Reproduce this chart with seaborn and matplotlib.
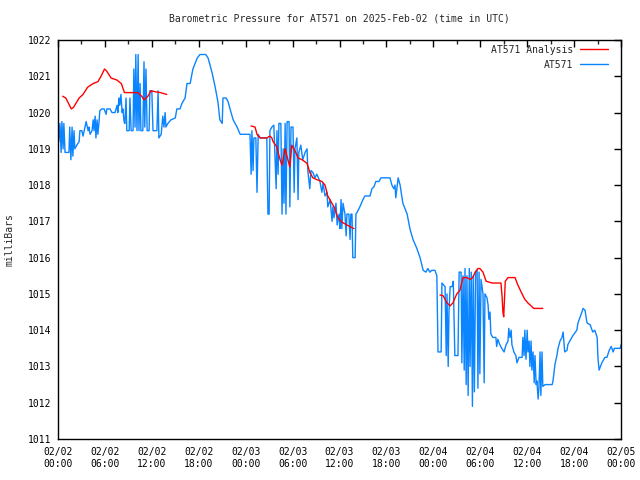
import pandas as pd
import matplotlib.pyplot as plt
import matplotlib.dates as mdates
import seaborn as sns
from matplotlib.lines import Line2D

# hours after 2025-02-02 00:00 UTC, station readings
blue_hours = [0.1, 0.25, 0.4, 0.5, 0.65, 0.75, 0.9, 1.4, 1.5, 1.65, 1.8, 1.9, 2.05, 2.15, 2.4, 2.7, 2.8,
              3.05, 3.2, 3.45, 3.6, 3.85, 3.95, 4.1, 4.35, 4.5, 4.6, 4.75, 4.85, 5.0, 5.1, 5.25, 5.35,
              5.6, 5.9, 6.15, 6.25, 6.65, 6.9, 7.3, 7.55, 7.65, 7.8, 7.9, 8.05, 8.2, 8.3, 8.45, 8.55,
              8.7, 8.8, 9.1, 9.2, 9.35, 9.6, 9.7, 9.85, 9.95, 10.1, 10.25, 10.35, 10.5, 10.6, 10.85,
              11.0, 11.1, 11.25, 11.4, 11.65, 11.75, 12.0, 12.15, 12.65, 12.8, 12.9, 13.2, 13.4, 13.55,
              13.7, 13.8, 14.05, 14.45, 15.0, 15.2, 15.6, 15.85, 16.25, 16.5, 16.9, 17.25, 17.8, 18.15,
              18.9, 19.2, 19.7, 20.1, 20.45, 20.7, 21.0, 21.1, 21.5, 21.75, 22.0, 22.4, 22.9, 23.3, 24.4,
              24.55, 24.7, 24.8, 24.95, 25.05, 25.3, 25.45, 25.6, 25.85, 26.7, 26.85, 27.0, 27.1, 27.35,
              27.6, 27.9, 28.0, 28.15, 28.25, 28.5, 28.65, 28.8, 28.9, 29.05, 29.15, 29.3, 29.55, 29.65,
              29.8, 30.05, 30.2, 30.3, 30.55, 30.7, 30.8, 31.05, 31.3, 31.6, 31.85, 31.95, 32.2, 32.35,
              32.6, 32.85, 33.1, 33.5, 33.75, 33.9, 34.15, 34.4, 34.5, 34.8, 35.05, 35.15, 35.3, 35.55,
              35.7, 35.95, 36.05, 36.2, 36.3, 36.45, 36.7, 36.85, 36.95, 37.2, 37.35, 37.45, 37.6, 37.7,
              38.0, 38.1, 38.25, 38.6, 39.0, 39.25, 39.9, 40.15, 40.4, 40.65, 41.05, 41.3, 41.55, 42.45,
              42.7, 42.95, 43.1, 43.2, 43.5, 43.75, 44.1, 44.65, 45.0, 45.4, 45.9, 46.3, 46.7, 47.05,
              47.3, 47.55, 47.8, 48.2, 48.45, 48.6, 49.0, 49.1, 49.5, 49.65, 49.75, 49.9, 50.0, 50.15,
              50.4, 50.55, 50.75, 51.15, 51.3, 51.55, 51.65, 51.8, 51.95, 52.05, 52.2, 52.3, 52.45, 52.6,
              52.7, 52.85, 53.0, 53.1, 53.25, 53.4, 53.6, 53.7, 53.85, 53.95, 54.1, 54.35, 54.5, 54.6,
              54.85, 55.0, 55.1, 55.25, 55.35, 55.6, 56.0, 56.1, 56.25, 56.5, 56.75, 57.05, 57.3, 57.55,
              57.65, 57.8, 57.95, 58.05, 58.3, 58.55, 58.7, 58.95, 59.35, 59.45, 59.6, 59.7, 59.85, 60.0,
              60.1, 60.25, 60.35, 60.5, 60.6, 60.75, 60.9, 61.0, 61.15, 61.25, 61.4, 61.5, 61.65, 61.75,
              61.9, 62.0, 62.3, 63.2, 63.3, 63.55, 63.8, 63.95, 64.2, 64.45, 64.6, 64.8, 65.1, 65.2,
              65.45, 65.85, 66.35, 66.5, 66.75, 67.0, 67.15, 67.4, 67.65, 68.05, 68.3, 68.4, 68.65,
              68.95, 69.05, 69.2, 69.55, 69.95, 70.2, 70.5, 70.75, 71.0, 71.15, 71.5, 71.9, 72.0]
blue_mbar = [1019.2, 1019.7, 1018.9, 1019.75, 1019.0, 1019.7, 1018.9, 1018.9, 1019.6, 1018.7, 1019.6, 1018.8,
             1019.5, 1019.0, 1019.1, 1019.2, 1019.5, 1019.5, 1019.35, 1019.6, 1019.75, 1019.5, 1019.6,
             1019.4, 1019.5, 1019.8, 1019.5, 1019.9, 1019.3, 1019.8, 1019.4, 1019.75, 1020.05, 1020.1,
             1020.1, 1019.95, 1020.1, 1020.1, 1020.0, 1020.0, 1020.2, 1020.0, 1020.4, 1020.2, 1020.5,
             1020.0, 1020.1, 1019.75, 1019.7,
             1020.4, 1019.5, 1019.5, 1020.4, 1019.5, 1019.5, 1021.2, 1019.6, 1021.6, 1019.5, 1021.6,
             1019.5, 1020.8, 1019.5, 1019.5, 1021.4, 1019.6, 1021.2, 1019.5, 1019.5, 1020.6, 1020.6,
             1019.5, 1019.5, 1020.6, 1019.3, 1019.4, 1019.9, 1019.6, 1020.0, 1019.6, 1019.7, 1019.8,
             1019.85, 1020.1, 1020.1, 1020.25, 1020.4, 1020.8, 1020.8, 1021.2, 1021.5, 1021.6, 1021.6,
             1021.5, 1021.1, 1020.7, 1020.3, 1019.8, 1019.7, 1020.4, 1020.4, 1020.3, 1020.1, 1019.8,
             1019.6, 1019.4, 1019.4,
             1019.4, 1018.3, 1019.5, 1018.4, 1019.3, 1019.3, 1017.8, 1019.4, 1019.3, 1019.3, 1017.2,
             1017.2, 1019.5, 1019.6, 1019.65, 1017.9, 1019.5, 1018.3, 1019.7, 1019.7, 1017.2, 1019.0,
             1017.5, 1019.7, 1017.2, 1019.75, 1019.75, 1017.4, 1019.6, 1019.6, 1017.8, 1019.0, 1019.3,
             1017.6, 1018.9, 1019.1, 1018.7, 1018.9, 1019.0, 1018.4, 1017.9, 1018.4, 1018.35, 1018.2,
             1018.3, 1018.1, 1017.8, 1018.05, 1017.7, 1017.8, 1017.4, 1017.6, 1017.0, 1017.4, 1017.1,
             1017.5, 1016.9, 1017.2, 1016.8, 1017.6, 1016.8, 1017.5, 1017.2, 1016.6, 1017.2, 1017.2,
             1016.5, 1017.2, 1017.2, 1016.0, 1016.0, 1017.2, 1017.25, 1017.4, 1017.6, 1017.7, 1017.7,
             1017.9, 1017.95, 1018.1, 1018.1, 1018.2, 1018.2, 1018.2, 1018.0, 1017.9, 1018.0, 1017.65,
             1018.2, 1018.0, 1017.5, 1017.2, 1016.8, 1016.5, 1016.25, 1016.0, 1015.65, 1015.6, 1015.7,
             1015.6, 1015.65, 1015.65, 1015.5, 1013.4, 1013.4, 1015.3, 1015.2, 1013.3, 1015.0, 1013.0,
             1014.5, 1015.2, 1015.2, 1015.35, 1013.3, 1013.3, 1015.6, 1015.6, 1013.1, 1015.5, 1012.9,
             1015.7, 1012.5, 1015.5, 1012.2, 1015.7, 1013.0, 1015.6, 1011.9, 1015.5, 1012.3, 1015.6,
             1015.65, 1012.4, 1015.6, 1012.8, 1015.4, 1015.0, 1012.55, 1015.0, 1014.9, 1014.7, 1014.3,
             1014.5, 1013.9, 1013.8, 1013.8, 1013.55, 1013.75, 1013.6, 1013.5, 1013.4, 1013.6, 1013.7,
             1014.05, 1013.8, 1014.0, 1013.6, 1013.4, 1013.3, 1013.1, 1013.25, 1013.25, 1013.8, 1013.3,
             1014.0, 1013.2, 1014.0, 1013.4, 1013.7, 1013.0, 1013.7, 1012.9, 1013.4, 1012.55, 1013.3,
             1012.5, 1012.6, 1012.1, 1012.4, 1013.4, 1012.2, 1013.4, 1012.45, 1012.5, 1012.5, 1012.6,
             1013.05, 1013.3, 1013.5, 1013.7, 1013.8, 1013.95, 1013.4, 1013.45, 1013.6, 1013.7, 1013.85,
             1014.0, 1014.2, 1014.35, 1014.5, 1014.6, 1014.55, 1014.2, 1014.15, 1014.0, 1013.95, 1014.0,
             1013.8, 1013.25, 1012.9, 1013.1, 1013.25, 1013.25, 1013.45, 1013.55, 1013.4, 1013.5,
             1013.5, 1013.5, 1013.6]

# analysis, three separate runs
red_hours = [
    [0.6, 1.0, 1.7, 2.0, 2.7, 3.2, 3.8, 4.5, 5.1, 5.5, 5.95, 6.2, 6.8, 7.5, 8.1, 8.5, 10.2, 10.7,
     11.0, 11.5, 11.9, 12.5, 13.1, 13.9],
    [24.7, 25.2, 25.45, 25.85, 26.7, 27.1, 27.35, 27.5, 28.0, 28.15, 28.4, 28.65, 29.05, 29.4, 29.65,
     29.9, 30.3, 30.7, 31.2, 31.85, 32.2, 32.6, 33.1, 33.75, 34.15, 34.5, 34.9, 35.3, 35.8, 36.3,
     36.95, 37.85],
    [48.85, 49.25, 49.75, 50.15, 50.5, 51.0, 51.4, 51.8, 52.3, 52.7, 53.05, 53.35, 53.7, 53.95, 54.35,
     54.75, 55.5, 56.65, 56.8, 56.9, 57.0, 57.1, 57.2, 57.55, 58.05, 58.45, 58.8, 59.35, 59.7, 60.1,
     60.6, 60.85, 62.0],
]
red_mbar = [
    [1020.45, 1020.4, 1020.1, 1020.15, 1020.4, 1020.5, 1020.7, 1020.8, 1020.85, 1021.0, 1021.2,
     1021.15, 1020.95, 1020.9, 1020.8, 1020.55, 1020.55, 1020.45, 1020.35, 1020.45, 1020.6, 1020.57,
     1020.55, 1020.5],
    [1019.63, 1019.6, 1019.4, 1019.3, 1019.3, 1019.35, 1019.3, 1019.2, 1019.05, 1018.9, 1018.7,
     1018.55, 1019.0, 1018.7, 1018.5, 1019.1, 1018.95, 1018.75, 1018.7, 1018.6, 1018.35, 1018.2,
     1018.15, 1018.1, 1018.0, 1017.7, 1017.55, 1017.4, 1017.1, 1016.98, 1016.9, 1016.8],
    [1014.97, 1014.95, 1014.75, 1014.67, 1014.75, 1015.0, 1015.1, 1015.45, 1015.45, 1015.4, 1015.45,
     1015.6, 1015.7, 1015.7, 1015.6, 1015.35, 1015.3, 1015.3, 1014.9, 1014.5, 1014.37, 1014.85,
     1015.35, 1015.45, 1015.45, 1015.45, 1015.25, 1015.0, 1014.85, 1014.75, 1014.65, 1014.6, 1014.6],
]

start = pd.Timestamp("2025-02-02 00:00")
blue_df = pd.DataFrame({"time": start + pd.to_timedelta(blue_hours, unit="h"), "mbar": blue_mbar})

sns.set_theme(style="white")
plt.rcParams["font.family"] = ["DejaVu Sans Mono"]

blue_c = "#0a84ff"
red_c = "#ff0000"

fig = plt.figure(figsize=(6.4, 4.8), dpi=100)
ax = fig.add_axes([58 / 640, 41 / 480, 563 / 640, 399 / 480])

sns.lineplot(data=blue_df, x="time", y="mbar", color=blue_c, lw=1, estimator=None, ax=ax, zorder=2)
for h, v in zip(red_hours, red_mbar):
    d = pd.DataFrame({"time": start + pd.to_timedelta(h, unit="h"), "mbar": v})
    sns.lineplot(data=d, x="time", y="mbar", color=red_c, lw=1, estimator=None, ax=ax, zorder=3)

ax.set_xlim(start, start + pd.Timedelta(hours=72))
ax.set_ylim(1011, 1022)
ax.set_yticks(range(1011, 1023))
ax.xaxis.set_major_locator(mdates.HourLocator(byhour=[0, 6, 12, 18]))
ax.xaxis.set_minor_locator(mdates.HourLocator(byhour=[3, 9, 15, 21]))
ax.xaxis.set_major_formatter(mdates.DateFormatter("%m/%d\n%H:%M"))

ax.tick_params(which="major", direction="in", top=True, right=True, length=5, width=1,
               labelsize=7, colors="black")
ax.tick_params(which="minor", direction="in", top=True, right=False, length=3, width=1)
ax.tick_params(axis="x", pad=6)
ax.tick_params(axis="y", pad=5)
for s in ax.spines.values():
    s.set_color("black")
    s.set_linewidth(1)

ax.set_xlabel("")
ax.set_ylabel("milliBars", fontsize=7)
ax.yaxis.set_label_coords(-0.077, 0.5)
ax.set_title("Barometric Pressure for AT571 on 2025-Feb-02 (time in UTC)", fontsize=7, pad=13)

handles = [Line2D([], [], color=red_c, lw=1), Line2D([], [], color=blue_c, lw=1)]
ax.legend(handles, ["AT571 Analysis", "AT571"], loc="upper right", frameon=False, markerfirst=False,
          fontsize=7, handlelength=2.9, handletextpad=0.7, labelspacing=0.5, borderaxespad=0.1,
          bbox_to_anchor=(613 / 640, 440 / 480), bbox_transform=fig.transFigure)

fig.savefig("out.png", dpi=100)
